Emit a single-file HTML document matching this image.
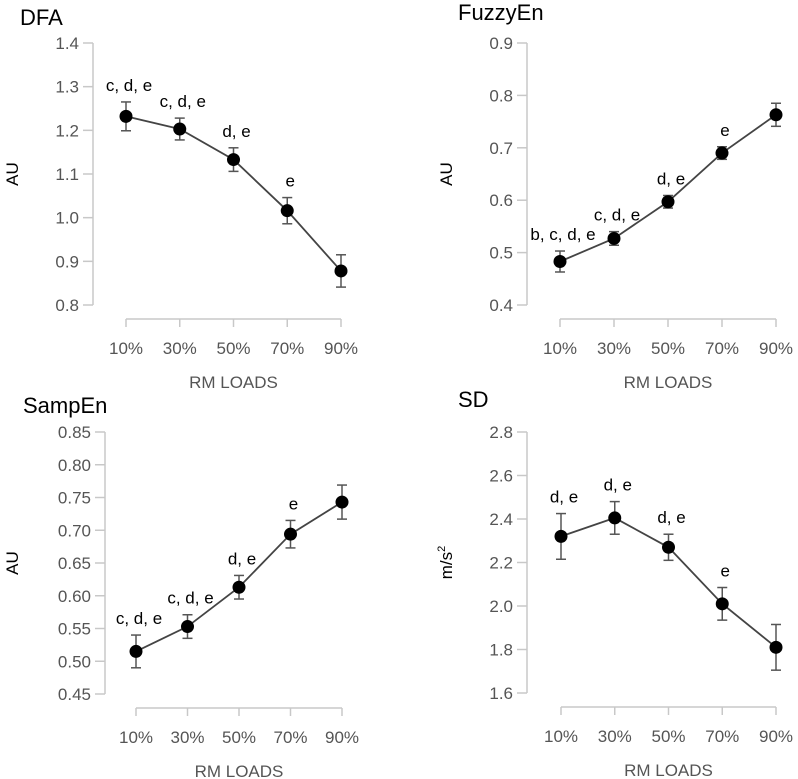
<!DOCTYPE html>
<html><head><meta charset="utf-8"><style>
body{margin:0;background:#fff;width:798px;height:779px;overflow:hidden}
svg{display:block}
text{font-family:"Liberation Sans",sans-serif}
</style></head><body>
<svg id="c" width="798" height="779"></svg>
<script>
const categories=["10%","30%","50%","70%","90%"];
const dfaMean=[1.232,1.203,1.133,1.016,0.878];
const dfaErr=[0.033,0.025,0.027,0.03,0.037];
const dfaSig=["c, d, e","c, d, e","d, e","e",""];
const dfaTicks=["0.8","0.9","1.0","1.1","1.2","1.3","1.4"];
const fuzMean=[0.483,0.527,0.597,0.690,0.763];
const fuzErr=[0.02,0.013,0.012,0.012,0.022];
const fuzSig=["b, c, d, e","c, d, e","d, e","e",""];
const fuzTicks=["0.4","0.5","0.6","0.7","0.8","0.9"];
const sampMean=[0.515,0.553,0.613,0.694,0.743];
const sampErr=[0.025,0.018,0.018,0.021,0.026];
const sampSig=["c, d, e","c, d, e","d, e","e",""];
const sampTicks=["0.45","0.50","0.55","0.60","0.65","0.70","0.75","0.80","0.85"];
const sdMean=[2.32,2.405,2.27,2.01,1.81];
const sdErr=[0.105,0.075,0.06,0.075,0.105];
const sdSig=["d, e","d, e","d, e","e",""];
const sdTicks=["1.6","1.8","2.0","2.2","2.4","2.6","2.8"];

const svg=document.getElementById('c');
const NS="http://www.w3.org/2000/svg";
function mk(tag,attrs,parent){const e=document.createElementNS(NS,tag);for(const k in attrs)e.setAttribute(k,attrs[k]);parent.appendChild(e);return e;}

function panel(name,title,ylab,ax,yTop,yBot,x0,dx,mean,err,sig,ticks,titleX,titleY,ylx){
  const g=mk('g',{},svg);
  
  
  const tmin=parseFloat(ticks[0]),tmax=parseFloat(ticks[ticks.length-1]);
  const ys=v=>yBot-(v-tmin)/(tmax-tmin)*(yBot-yTop);
  const xs=i=>x0+i*dx;
  const t=mk('text',{x:titleX,y:titleY,'font-size':22,fill:'#000'},g);t.textContent=title;
  
  const yl=mk('text',{x:0,y:0,'font-size':17,fill:'#000','text-anchor':'middle',transform:`translate(${ylx},${(yTop+yBot)/2}) rotate(-90)`},g);
  if(ylab==='m/s2'){yl.innerHTML='m/s<tspan font-size="11" dy="-7">2</tspan>';}else yl.textContent=ylab;
  
  const ya=mk('g',{},g);
  mk('line',{x1:ax,x2:ax,y1:yTop,y2:yBot,stroke:'#c8c8c8','stroke-width':1.5},ya);
  ticks.forEach(tk=>{const y=ys(parseFloat(tk));
    mk('line',{x1:ax-10,x2:ax,y1:y,y2:y,stroke:'#c8c8c8','stroke-width':1.5},ya);
    const tt=mk('text',{x:ax-14,y:y+6,'font-size':17,fill:'#555','text-anchor':'end'},ya);tt.textContent=tk;});
  const xa=mk('g',{},g);
  const axY=yBot+14;
  mk('line',{x1:xs(0),x2:xs(categories.length-1),y1:axY,y2:axY,stroke:'#c8c8c8','stroke-width':1.5},xa);
  categories.forEach((c,i)=>{mk('line',{x1:xs(i),x2:xs(i),y1:axY,y2:axY+8,stroke:'#c8c8c8','stroke-width':1.5},xa);
    const tt=mk('text',{x:xs(i),y:axY+35,'font-size':17,fill:'#555','text-anchor':'middle'},xa);tt.textContent=c;});
  const xt=mk('text',{x:(xs(0)+xs(4))/2,y:axY+69,'font-size':17,fill:'#555','text-anchor':'middle'},g);xt.textContent='RM LOADS';
  
  const pts=mean.map((v,i)=>xs(i)+','+ys(v)).join(' ');
  const ln=mk('polyline',{points:pts,fill:'none',stroke:'#444','stroke-width':1.8},g);
  
  mean.forEach((v,i)=>{
    const eb=mk('g',{stroke:'#555','stroke-width':1.5},g);
    
    const a=ys(v+err[i]),b=ys(v-err[i]),x=xs(i);
    mk('line',{x1:x,x2:x,y1:a,y2:b},eb);mk('line',{x1:x-5,x2:x+5,y1:a,y2:a},eb);mk('line',{x1:x-5,x2:x+5,y1:b,y2:b},eb);
    const p=mk('circle',{cx:x,cy:ys(v),r:6.5,fill:'#000'},g);
    
    if(sig[i]){const s=mk('text',{x:x+3,y:a-11,'font-size':17,fill:'#000','text-anchor':'middle'},g);s.textContent=sig[i];
      }
  });
}
panel('dfa','DFA','AU',93,43,305,126,53.75,dfaMean,dfaErr,dfaSig,dfaTicks,20,25,18);
panel('fuzzyen','FuzzyEn','AU',527,43,305,560,54,fuzMean,fuzErr,fuzSig,fuzTicks,458,20,452);
panel('sampen','SampEn','AU',105,432,694,136,51.5,sampMean,sampErr,sampSig,sampTicks,23,413,18);
panel('sd','SD','m/s2',527,432,693,561,53.75,sdMean,sdErr,sdSig,sdTicks,458,407,452);
</script>
</body></html>
